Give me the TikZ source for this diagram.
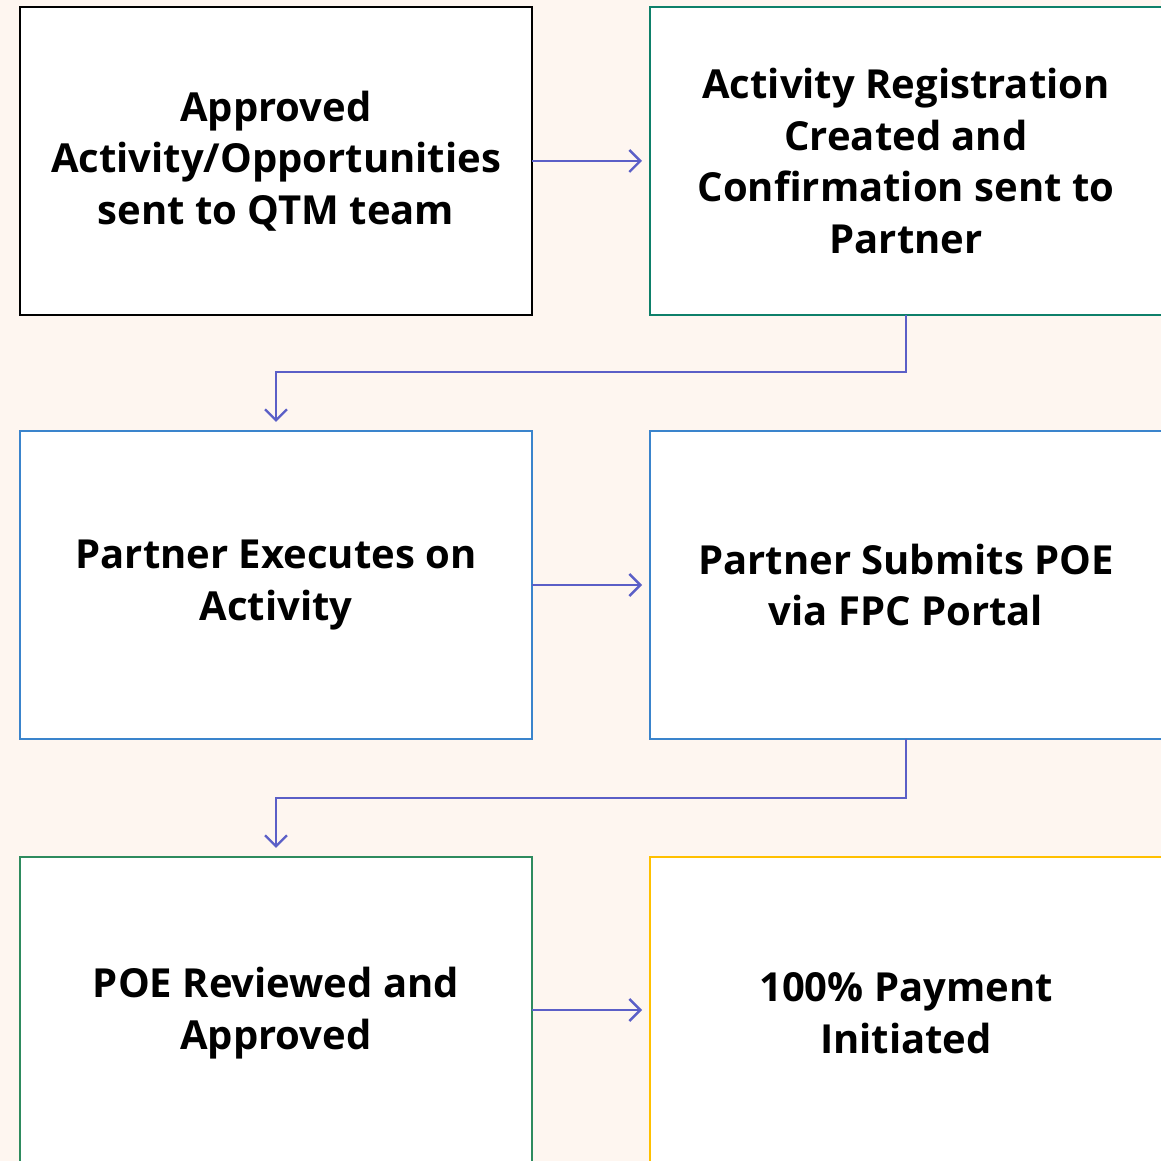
\documentclass[tikz,border=0pt]{standalone}
\usepackage{fontspec}
\setmainfont{Open Sans}
\usetikzlibrary{arrows.meta}
\definecolor{bgc}{HTML}{FEF6F0}
\definecolor{arr}{HTML}{5B5FC7}
\definecolor{teal1}{HTML}{0E806A}
\definecolor{blue1}{HTML}{3A84CC}
\definecolor{green1}{HTML}{2E8B5E}
\definecolor{gold1}{HTML}{FFC000}
\tikzset{
  box/.style={draw, fill=white, line width=2.4pt, minimum width=512pt, minimum height=308pt, inner sep=0pt, outer sep=0pt,
    align=center, font=\fontsize{40}{51.5}\selectfont\bfseries},
  conn/.style={draw=arr, line width=2.4pt, -{Straight Barb[length=11pt,width=22pt,line width=2.4pt]}},
}
\begin{document}
\begin{tikzpicture}[x=1pt,y=1pt]
\fill[bgc] (0,0) rectangle (1161,1161);
\useasboundingbox (0,0) rectangle (1161,1161);
\begin{scope}
\clip (0,0) rectangle (1161,1161);
\node[box, draw=black] (a) at (276,1000) {Approved\\Activity/Opportunities\\sent to QTM team};
\node[box, draw=teal1] (b) at (906,1000) {Activity Registration\\Created and\\Confirmation sent to\\Partner};
\node[box, draw=blue1] (c) at (276,576) {Partner Executes on\\Activity};
\node[box, draw=blue1] (d) at (906,576) {Partner Submits POE\\via FPC Portal};
\node[box, draw=green1, minimum height=312pt] (e) at (276,148) {POE Reviewed and\\Approved};
\node[box, draw=gold1, minimum height=312pt] (f) at (906,148) {100\% Payment\\Initiated};
\end{scope}
\draw[conn] (a.east) -- ([xshift=-8pt]b.west);
\draw[conn] (c.east) -- ([xshift=-8pt]d.west);
\draw[conn] (e.east |- 0,151) -- ([xshift=-8pt]f.west |- 0,151);
\draw[conn] (b.south) -- ++(0,-57) -| ([yshift=9pt]c.north);
\draw[conn] (d.south) -- ++(0,-59) -| ([yshift=9pt]e.north);
\end{tikzpicture}
\end{document}
